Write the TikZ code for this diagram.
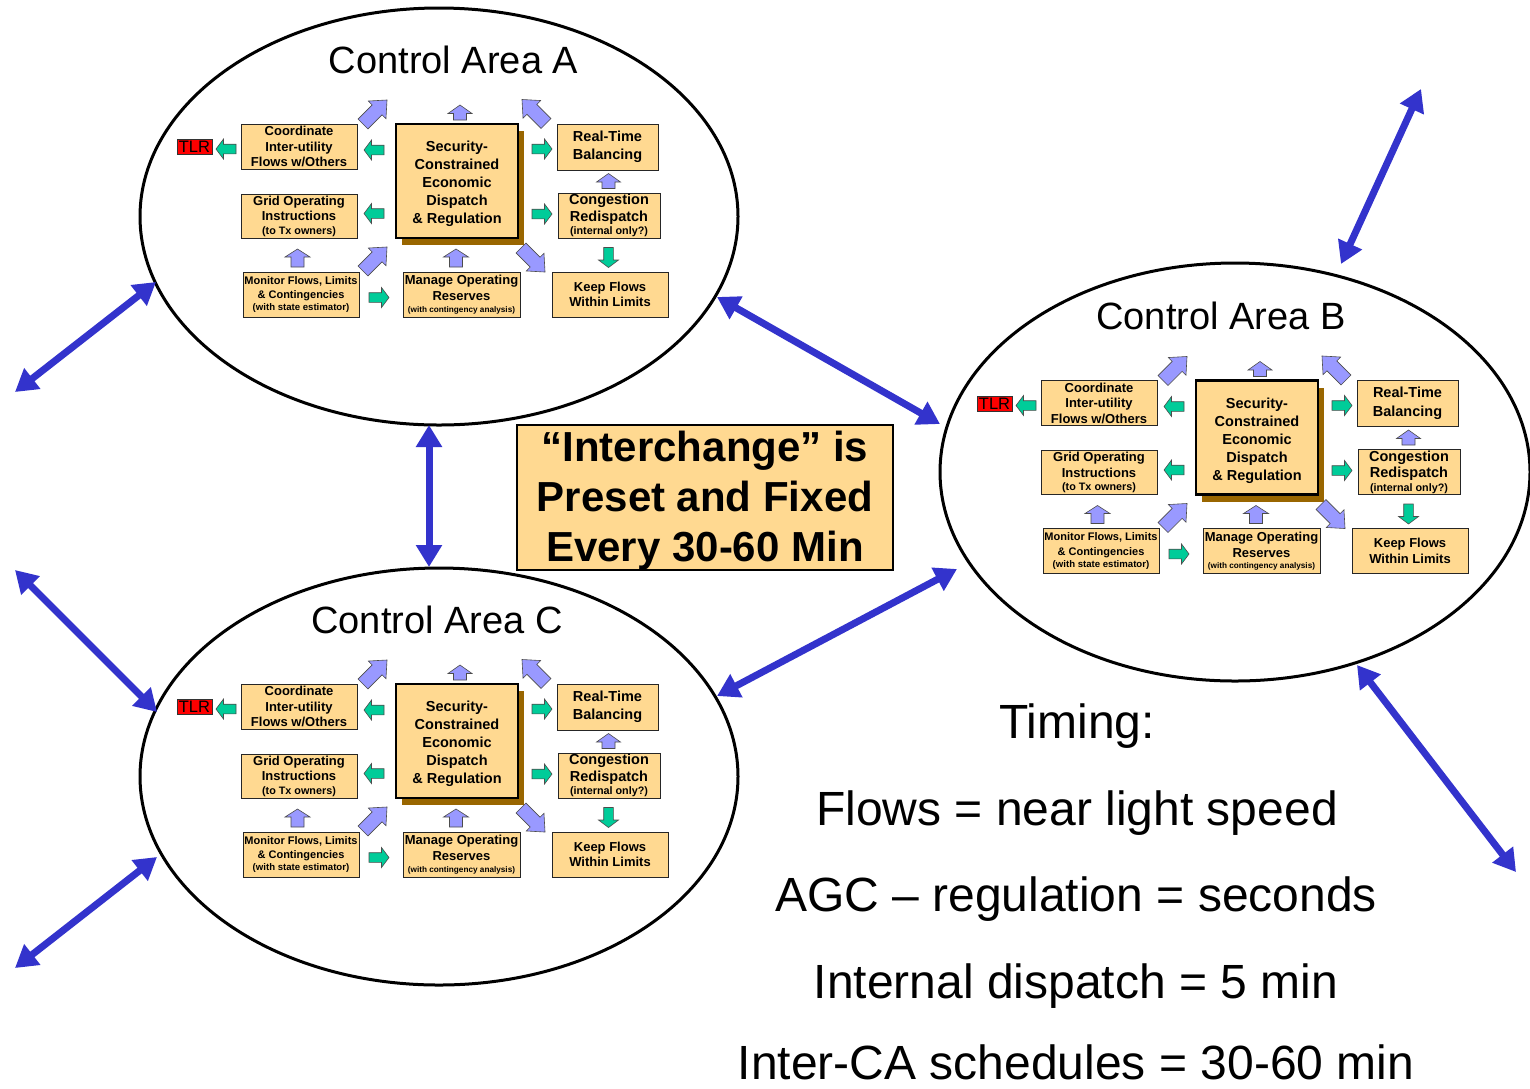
\documentclass[tikz,border=0pt]{standalone}
\usepackage{fontspec}
\setmainfont{Liberation Sans}
\usetikzlibrary{shapes.geometric,arrows.meta,shadows}
\definecolor{boxfill}{HTML}{FFD991}
\definecolor{agreen}{HTML}{00CC99}
\definecolor{ablue}{HTML}{9999FF}
\definecolor{bigblue}{HTML}{3333CC}
\definecolor{shadowbrown}{HTML}{996600}
\definecolor{tlrred}{HTML}{FF0000}
\newcommand{\fs}[2]{\fontsize{#1}{#2}\selectfont}
\tikzset{
  pbox/.style={draw=black!85, line width=0.9pt, fill=boxfill, inner sep=0pt, align=center},
  scedbox/.style={draw=black, line width=2.4pt, fill=boxfill, inner sep=0pt, align=center, font=\bfseries\fs{14.5}{18},
     minimum width=122pt, minimum height=114pt, text height=88.5pt, text depth=3pt,
     drop shadow={shadow xshift=6pt, shadow yshift=-7pt, fill=shadowbrown, opacity=1}},
  tlrbox/.style={draw=black!80, line width=0.8pt, fill=tlrred, inner sep=0pt, minimum width=35pt, minimum height=15pt, font=\fs{16.5}{17}},
  ellarea/.style={draw=black, line width=3pt, ellipse, inner sep=0pt},
  areatitle/.style={anchor=base, font=\fs{38}{40}},
  timing/.style={anchor=base, font=\fs{48}{50}},
  bigarrow/.style={draw=bigblue, line width=7pt, {Triangle[length=22pt,width=25pt]}-{Triangle[length=22pt,width=25pt]}},
  icbox/.style={draw=black, line width=2pt, fill=boxfill, inner sep=0pt, minimum width=376pt, minimum height=145pt},
  ictext/.style={inner sep=0pt, align=center, font=\bfseries\fs{42}{50}},
  garrow/.pic={\draw[fill=agreen, draw=black!70, line width=0.6pt]
     (-10,-4.8)--(2.5,-4.8)--(2.5,-10)--(10,0)--(2.5,10)--(2.5,4.8)--(-10,4.8)--cycle;},
  barrow/.pic={\draw[fill=ablue, draw=black!70, line width=0.6pt]
     (-9,-6.5)--(1,-6.5)--(1,-12.5)--(9,0)--(1,12.5)--(1,6.5)--(-9,6.5)--cycle;},
  sbarrow/.pic={\draw[fill=ablue, draw=black!70, line width=0.6pt]
     (-7.5,-6.5)--(-1,-6.5)--(-1,-12)--(7.5,0)--(-1,12)--(-1,6.5)--(-7.5,6.5)--cycle;},
  darrow/.pic={\draw[fill=ablue, draw=black!70, line width=0.6pt]
     (-17,-7)--(3,-7)--(3,-12.5)--(17,0)--(3,12.5)--(3,7)--(-17,7)--cycle;},
}
\newcommand{\ctrlarea}[3]{%
\begin{scope}[shift={(#2,#3)}]
  \node[tlrbox] (#1tlr) at (194.5,147) {TLR};
  \node[pbox, font=\bfseries\fs{13}{15.5}, minimum width=116pt, minimum height=45pt] (#1coord) at (299,146.5)
     {Coordinate\\Inter-utility\\Flows w/Others};
  \node[pbox, font=\bfseries\fs{13}{15.5}, minimum width=116pt, minimum height=44pt] (#1grid) at (299,216)
     {Grid Operating\\Instructions\\[-2pt]\fs{10.8}{12}(to Tx owners)};
  \node[pbox, font=\bfseries\fs{11}{14.5}, minimum width=116pt, minimum height=45pt] (#1mon) at (301,294.5)
     {Monitor Flows, Limits\\\& Contingencies\\[-2.5pt]\fs{9.6}{11}(with state estimator)};
  \node[scedbox] (#1sced) at (457,181)
     {Security-\\Constrained\\Economic\\Dispatch\\\& Regulation};
  \node[pbox, font=\bfseries\fs{13}{16}, minimum width=117pt, minimum height=45pt] (#1man) at (461.5,294.5)
     {Manage Operating\\Reserves\\[-4.5pt]\fs{8.2}{10}(with contingency analysis)};
  \node[pbox, font=\bfseries\fs{14.5}{18.5}, minimum width=101pt, minimum height=46pt] (#1rtb) at (607.5,147)
     {Real-Time\\Balancing};
  \node[pbox, font=\bfseries\fs{14.5}{16.5}, minimum width=102pt, minimum height=45pt] (#1cr) at (609,215.5)
     {Congestion\\Redispatch\\[-3pt]\fs{10.8}{12}(internal only?)};
  \node[pbox, font=\bfseries\fs{13}{15.5}, minimum width=116pt, minimum height=45pt] (#1keep) at (610,294.5)
     {Keep Flows\\Within Limits};
  % green arrows
  \pic[rotate=180] at (226,149) {garrow};
  \pic[rotate=180] at (374,150) {garrow};
  \pic[rotate=180] at (374,213.5) {garrow};
  \pic at (542,149) {garrow};
  \pic at (542,214) {garrow};
  \pic at (379,297.5) {garrow};
  \pic[rotate=-90] at (608.5,257.5) {garrow};
  % blue arrows
  \pic[rotate=90] at (460,112.5) {sbarrow};
  \pic[rotate=90] at (608.5,181) {sbarrow};
  \pic[rotate=90] at (297.5,258) {barrow};
  \pic[rotate=90] at (456,258) {barrow};
  \pic[rotate=45] at (375,112) {darrow};
  \pic[rotate=135] at (534,111.5) {darrow};
  \pic[rotate=45] at (375,259) {darrow};
  \pic[rotate=-45] at (533,260) {darrow};
\end{scope}}
\begin{document}
\begin{tikzpicture}[x=1pt, y=-1pt]
  \fill[white] (0,0) rectangle (1530,1088);
  \useasboundingbox (0,0) rectangle (1530,1088);
  % ellipses
  \node[ellarea, minimum width=598pt, minimum height=417pt] (A) at (439,216.5) {};
  \node[ellarea, minimum width=590pt, minimum height=418pt] (B) at (1235,472) {};
  \node[ellarea, minimum width=598pt, minimum height=417pt] (C) at (439,776.5) {};
  \node[areatitle] (Atitle) at (453.5,73) {Control Area A};
  \node[areatitle] (Btitle) at (1221,329) {Control Area B};
  \node[areatitle] (Ctitle) at (437,633) {Control Area C};
  \ctrlarea{A}{0}{0}
  \ctrlarea{B}{800}{256.5}
  \ctrlarea{C}{0}{560}
  % interchange box
  \node[icbox] (ic) at (705,497.5) {};
  \node[ictext] (ictxt) at (705,500.5) {“Interchange” is\\Preset and Fixed\\Every 30-60 Min};
  % timing text
  \node[timing] (t1) at (1077,738) {Timing:};
  \node[timing] (t2) at (1077,825) {Flows = near light speed};
  \node[timing] (t3) at (1076,911) {AGC – regulation = seconds};
  \node[timing] (t4) at (1076,998) {Internal dispatch = 5 min};
  \node[timing] (t5) at (1076,1079) {Inter-CA schedules = 30-60 min};
  % big arrows
  \coordinate (e1a) at (15,392);   \coordinate (e1b) at (156,282);
  \coordinate (e2a) at (717,297);  \coordinate (e2b) at (940,424);
  \coordinate (e3a) at (429,425);  \coordinate (e3b) at (429,567);
  \coordinate (e4a) at (15,570);   \coordinate (e4b) at (157,712);
  \coordinate (e5a) at (15,968);   \coordinate (e5b) at (157,857);
  \coordinate (e6a) at (717,696);  \coordinate (e6b) at (957,569);
  \coordinate (e7a) at (1421,89);  \coordinate (e7b) at (1341,264);
  \coordinate (e8a) at (1357,665); \coordinate (e8b) at (1516,872);
  \foreach \i in {1,...,8} {\draw[bigarrow] (e\i a) -- (e\i b);}
\end{tikzpicture}
\end{document}
